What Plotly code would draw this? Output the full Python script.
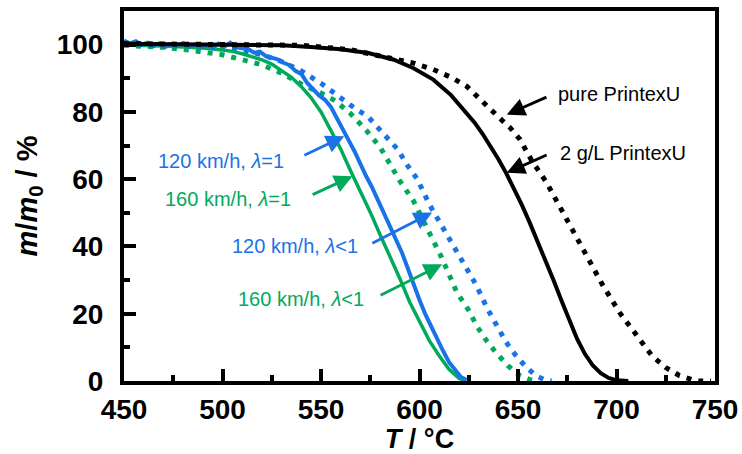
import plotly.graph_objects as go

# ---------------- data ----------------
pure_T = [450, 500, 540, 565, 582, 597, 607, 616, 624, 631, 636, 641, 646, 651, 657, 664.5, 671, 678, 685, 693, 701.5, 710, 718, 725, 732, 738, 742, 748]
pure_m = [100.3, 100.2, 99.8, 98.5, 96.5, 94.5, 92.6, 90.3, 87.6, 83.4, 80.8, 78.0, 75.3, 71.8, 65.5, 59.0, 52.0, 44.0, 37.0, 28.5, 20.4, 13.5, 7.5, 4.0, 1.6, 0.5, 0.0, 0.0]

g2_T = [450, 480, 510, 530, 545, 560, 574, 587, 597, 607, 616, 624, 628, 632, 636, 640, 644, 648, 652, 656, 660, 664, 668, 672, 676, 680, 684, 688, 692, 696, 700, 706]
g2_m = [100.3, 100.2, 100.0, 99.8, 99.3, 98.6, 97.5, 95.5, 93.0, 89.6, 85.0, 79.7, 76.8, 73.5, 70.0, 66.0, 61.8, 57.2, 52.3, 47.0, 41.5, 35.8, 30.0, 24.0, 18.0, 12.5, 8.0, 4.6, 2.3, 0.9, 0.2, 0.0]

b1_T = [450, 453, 456, 459, 462, 465, 468, 471, 474, 477, 480, 483, 486, 489, 492, 495, 498, 501, 504, 507,
        510, 513, 516, 519, 522, 525, 528, 531, 534, 537, 540, 543, 546, 549, 552, 555, 558, 561, 564, 567,
        570, 573, 576, 579, 582, 585, 588, 591, 594, 597, 600, 603, 606, 609, 612, 615, 618, 621, 624]
b1_m = [101.2, 100.3, 101.0, 99.9, 100.6, 99.5, 100.4, 99.3, 100.2, 99.6, 100.5, 99.4, 100.1, 99.3, 99.9, 99.0, 100.3, 99.4, 100.6, 99.2,
        98.9, 98.7, 97.6, 97.9, 96.6, 96.2, 95.6, 94.6, 93.9, 92.2, 91.3, 88.6, 86.8, 84.9, 83.6, 81.5, 78.2, 74.6, 71.6, 68.3,
        64.2, 60.8, 57.5, 53.6, 49.8, 45.9, 41.6, 38.3, 33.6, 28.7, 24.1, 19.8, 16.0, 12.3, 8.9, 5.6, 3.2, 1.2, 0.3]

g1_T = [450, 460, 470, 480, 490, 500, 505, 510, 515, 520, 525, 530, 535, 540, 545, 550, 555, 560, 565, 570, 575, 580, 585, 590, 595, 600, 605, 610, 615, 620, 623]
g1_m = [99.9, 99.8, 99.6, 99.3, 99.0, 98.4, 98.0, 97.3, 96.5, 95.5, 94.2, 92.4, 90.3, 87.5, 84.2, 80.0, 74.5, 69.0, 62.5, 56.5, 50.2, 43.5, 37.3, 30.5, 23.5, 17.5, 12.0, 7.5, 3.5, 0.8, 0.1]

b2_T = [450, 460, 470, 480, 490, 500, 510, 520, 530, 540, 550, 557, 565, 574, 581, 589, 594, 599, 605, 612, 619, 624, 629, 634, 639, 644, 649, 654, 659, 663, 667]
b2_m = [100.3, 100.1, 99.9, 99.7, 99.4, 99.0, 98.2, 97.0, 95.0, 92.2, 88.5, 85.4, 82.0, 78.5, 74.0, 68.8, 64.0, 59.9, 52.5, 45.5, 39.0, 33.5, 28.3, 22.0, 16.4, 11.5, 7.5, 4.2, 1.6, 0.5, 0.0]

g3_T = [450, 460, 470, 480, 490, 500, 510, 520, 530, 540, 550, 557, 565, 573, 580, 585, 590, 597, 604, 611, 619, 625, 629, 634, 639, 645, 651, 656, 660]
g3_m = [99.8, 99.6, 99.2, 98.6, 97.7, 97.0, 95.5, 94.0, 91.5, 88.3, 85.6, 83.4, 79.5, 74.5, 69.5, 64.5, 59.5, 53.5, 45.5, 37.0, 26.3, 21.0, 16.4, 12.0, 8.3, 4.5, 1.6, 0.4, 0.0]

x_ticks = [450, 500, 550, 600, 650, 700, 750]
y_ticks = [0, 20, 40, 60, 80, 100]

# annotation positions: (label, color, text_x, text_y, anchor, tail_x, tail_y, tip_x, tip_y)
labels = [
    ("pure PrintexU", "#000000", 669.5, 85.2, "left", 665.2, 84.6, 644.3, 79.2),
    ("2 g/L PrintexU", "#000000", 670.5, 67.8, "left", 665.3, 67.4, 644.3, 61.9),
    ("120 km/h, <i>λ</i>=1", "#1a73e6", 532.0, 65.4, "right", 540.8, 66.9, 561.8, 72.8),
    ("160 km/h, <i>λ</i>=1", "#00aa5a", 536.0, 54.0, "right", 545.0, 55.2, 566.0, 60.9),
    ("120 km/h, <i>λ</i>&lt;1", "#1a73e6", 570.0, 40.2, "right", 575.3, 40.7, 606.4, 50.1),
    ("160 km/h, <i>λ</i>&lt;1", "#00aa5a", 573.0, 24.3, "right", 579.5, 25.3, 611.5, 34.7),
]

BLUE = "#1a73e6"
GREEN = "#00aa5a"
FONT = "Arial, Liberation Sans, sans-serif"
DOT = "5px,7px"

fig = go.Figure()
fig.add_trace(go.Scatter(x=g3_T, y=g3_m, mode="lines", line=dict(color=GREEN, width=5, dash=DOT)))
fig.add_trace(go.Scatter(x=b2_T, y=b2_m, mode="lines", line=dict(color=BLUE, width=5, dash=DOT)))
fig.add_trace(go.Scatter(x=g1_T, y=g1_m, mode="lines", line=dict(color=GREEN, width=3.5)))
fig.add_trace(go.Scatter(x=b1_T, y=b1_m, mode="lines", line=dict(color=BLUE, width=4)))
fig.add_trace(go.Scatter(x=pure_T, y=pure_m, mode="lines", line=dict(color="black", width=5, dash=DOT)))
fig.add_trace(go.Scatter(x=g2_T, y=g2_m, mode="lines", line=dict(color="black", width=4)))

for text, col, tx, ty, anc, ax_, ay_, px, py in labels:
    fig.add_annotation(x=px, y=py, ax=ax_, ay=ay_, xref="x", yref="y", axref="x", ayref="y",
                       text="", showarrow=True, arrowhead=2, arrowsize=1.3, arrowwidth=2.8, arrowcolor=col)
    fig.add_annotation(x=tx, y=ty, xref="x", yref="y", text=text, showarrow=False,
                       xanchor=anc, yanchor="middle", font=dict(family=FONT, size=20, color=col))

fig.update_layout(
    width=742, height=454,
    margin=dict(l=124, r=27, t=11, b=73),
    paper_bgcolor="white", plot_bgcolor="white",
    showlegend=False,
    font=dict(family=FONT, color="black"),
)
fig.update_xaxes(
    range=[450, 750], tickvals=x_ticks, ticktext=[str(v) for v in x_ticks],
    automargin=False,
    showgrid=False, zeroline=False, showline=True, linecolor="black", linewidth=4, mirror=True,
    ticks="inside", ticklen=12, tickwidth=4, tickcolor="black",
    minor=dict(tickvals=[475, 525, 575, 625, 675, 725], ticks="inside", ticklen=6, tickwidth=4, tickcolor="black"),
    tickfont=dict(family=FONT, size=28, color="black", weight="bold"),
    title=dict(text="<b><i>T</i> / °C</b>", font=dict(family=FONT, size=27, color="black"), standoff=14),
)
fig.update_yaxes(
    range=[0, 110], tickvals=y_ticks, ticktext=[str(v) for v in y_ticks],
    automargin=False,
    showgrid=False, zeroline=False, showline=True, linecolor="black", linewidth=4, mirror=True,
    ticks="inside", ticklen=12, tickwidth=4, tickcolor="black",
    minor=dict(tickvals=[10, 30, 50, 70, 90], ticks="inside", ticklen=6, tickwidth=4, tickcolor="black"),
    tickfont=dict(family=FONT, size=28, color="black", weight="bold"),
    ticklabelstandoff=11,
    title=dict(text="<b><i>m</i>/<i>m</i><sub>0</sub> / %</b>", font=dict(family=FONT, size=29, color="black"), standoff=12),
)

fig.write_html("out.html")
